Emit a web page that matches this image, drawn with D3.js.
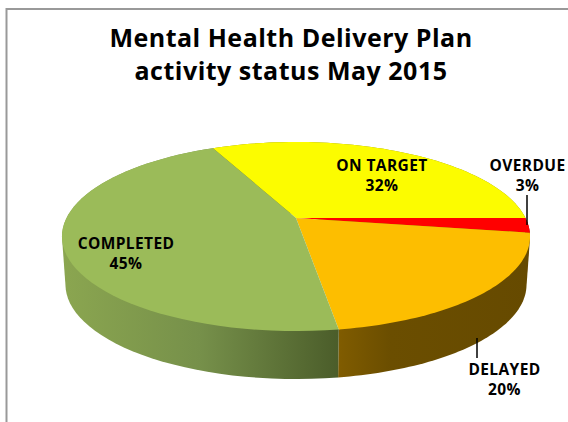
<!DOCTYPE html>
<html><head><meta charset="utf-8">
<style>html,body{margin:0;padding:0;background:#fff;overflow:hidden}</style>
<script src="https://cdn.jsdelivr.net/npm/d3@7"></script></head>
<body><svg id="c" width="568" height="422"></svg>
<script>
const categories = ["ON TARGET","OVERDUE","DELAYED","COMPLETED"];
const shares = [32,2.5,20.1,45.4];
const shareLabels = ["32%","3%","20%","45%"];
const topColors = ["#fcfc00","#ff0000","#fdbe00","#9bbb59"];
const titleLines = ["Mental Health Delivery Plan","activity status May 2015"];

const svg = d3.select("#c");
const font = "'Open Sans','Noto Sans',sans-serif";
svg.append("path").attr("d","M6.5 422V9H568").attr("fill","none").attr("stroke","#999").attr("stroke-width",2);

// perspective projection of the unit disc
const k=0.196;
const X=d3.scaleLinear().domain([-1,1]).range([296-229.5,296+229.5]);
const Y=d3.scaleLinear().domain([-1,1]).range([218-90.9,218+90.9]);
function proj(a,lower){
  const u=Math.sin(a), v=-Math.cos(a), w=1-k*v;
  const s=lower?0.985:1;
  return [296+(X(u/w)-296)*s, Y(v/w)+(lower?48:0)];
}
const start=Math.PI/2-115.2*Math.PI/180;
const arcs=d3.pie().sort(null).startAngle(start).endAngle(start+2*Math.PI)(shares);
const line=d3.line();
const samples=(a0,a1)=>d3.range(0,61).map(i=>a0+(a1-a0)*i/60);

const defs=svg.append("defs");
function grad(id,stops){
  const g=defs.append("linearGradient").attr("id",id).attr("gradientUnits","userSpaceOnUse")
    .attr("x1",stops[0][0]).attr("x2",stops[stops.length-1][0]).attr("y1",0).attr("y2",0);
  stops.forEach(s=>g.append("stop").attr("offset",(s[0]-stops[0][0])/(stops[stops.length-1][0]-stops[0][0])).attr("stop-color",s[1]));
}
grad("gC",[[62,"#8ba650"],[200,"#76904a"],[338,"#4b5d2a"]]);
grad("gD",[[338,"#805c00"],[390,"#6b4e00"],[530,"#664a00"]]);
grad("gO",[[525,"#8a0000"],[532,"#8a0000"]]);
grad("gT",[[525,"#8a8a00"],[532,"#8a8a00"]]);
const sideFill=["url(#gT)","url(#gO)","url(#gD)","url(#gC)"];

const sides=svg.append("g"), tops=svg.append("g");
// each slice's wall is the convex hull of its upper and lower rim, so the outline runs tangent between rims
sides.selectAll("path").data(arcs).join("path")
  .attr("d",d=>{
    const s=samples(d.startAngle,d.endAngle);
    return line(d3.polygonHull(s.map(a=>proj(a,false)).concat(s.map(a=>proj(a,true)))))+"Z";
  })
  .attr("fill",d=>sideFill[d.index]);
tops.selectAll("path").data(arcs).join("path")
  .attr("d",d=>line([[X(0),Y(0)]].concat(samples(d.startAngle,d.endAngle).map(a=>proj(a,false))))+"Z")
  .attr("fill",d=>topColors[d.index]);

// leader lines
svg.append("line").attr("x1",527).attr("x2",527).attr("y1",195).attr("y2",225).attr("stroke","#000").attr("stroke-width",1.5);
svg.append("line").attr("x1",477).attr("x2",477).attr("y1",338).attr("y2",358).attr("stroke","#000").attr("stroke-width",1.5);

// text
svg.append("g").selectAll("text").data(titleLines).join("text")
  .attr("x",291).attr("y",(d,i)=>47+i*33).attr("text-anchor","middle")
  .attr("font-family",font).attr("font-weight",700).attr("font-size",25).attr("letter-spacing",0.5).attr("fill","#000").text(d=>d);
const labelPos=[[382,171],[527.5,171],[504.5,375],[126,249]];
const lab=svg.append("g").selectAll("g").data(categories).join("g");
lab.append("text").attr("x",(d,i)=>labelPos[i][0]).attr("y",(d,i)=>labelPos[i][1])
  .attr("text-anchor","middle").attr("font-family",font).attr("font-weight",700).attr("font-size",15.5).attr("letter-spacing",0.4).attr("fill","#000").text(d=>d);
lab.append("text").attr("x",(d,i)=>labelPos[i][0]).attr("y",(d,i)=>labelPos[i][1]+20)
  .attr("text-anchor","middle").attr("font-family",font).attr("font-weight",700).attr("font-size",15.5).attr("letter-spacing",0.4).attr("fill","#000").text((d,i)=>shareLabels[i]);
</script></body></html>
